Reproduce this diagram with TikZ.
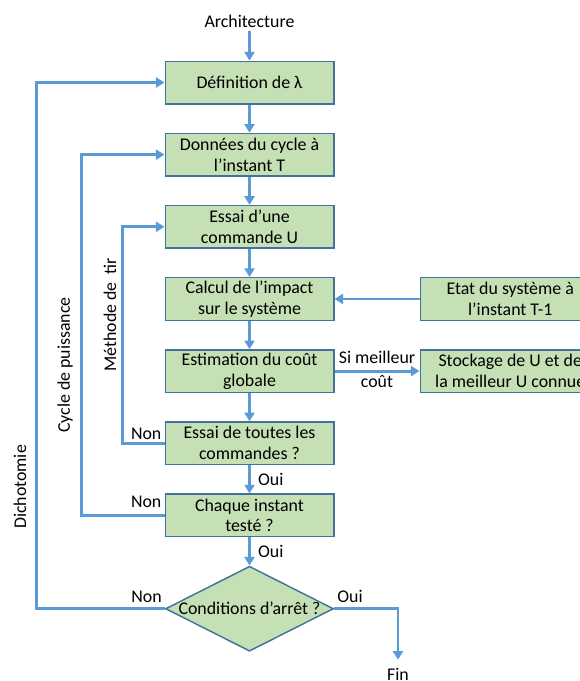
\documentclass[tikz,border=0pt]{standalone}
\usepackage{fontspec}
\setmainfont{Carlito}
\usetikzlibrary{arrows.meta,positioning,shapes.geometric}
\definecolor{vertclair}{HTML}{C5E0B4}
\definecolor{bordure}{HTML}{41719C}
\definecolor{bleufleche}{HTML}{5B9BD5}

\begin{document}
\begin{tikzpicture}[
x=0.7pt, y=-0.7pt,
node distance=19.7pt,
font=\fontsize{12.5}{14.5}\selectfont,
boite/.style={
rectangle,
draw=bordure,
fill=vertclair,
line width=1pt,
align=center,
minimum width=118pt,
minimum height=29.8pt,
inner xsep=2pt,
inner ysep=0pt
},
losange/.style={
diamond,
draw=bordure,
fill=vertclair,
line width=1pt,
minimum width=117.6pt,
minimum height=59.5pt,
inner sep=0pt
},
etiq/.style={inner sep=2pt},
fleche/.style={-{Triangle[length=6pt,width=7pt]}, line width=2pt, draw=bleufleche}
]
\useasboundingbox (0,0) rectangle (580,681);
\clip (0,0) rectangle (580,681);

\node[boite] (def) at (249.5,82.5) {Définition de λ};
\node[etiq, above=21pt of def] (arch) {Architecture};
\node[boite, below=of def] (don) {Données du cycle à \\ l’instant T};
\node[boite, below=of don] (essai) {Essai d’une \\ commande U};
\node[boite, below=of essai] (calc) {Calcul de l’impact \\ sur le système};
\node[boite, minimum width=126pt, right=59.5pt of calc] (etat) {Etat du système à \\ l’instant T-1};
\node[boite, below=of calc] (estim) {Estimation du coût \\ globale};
\node[boite, minimum width=126pt, right=59.5pt of estim] (stock) {Stockage de U et de \\ la meilleur U connue};
\node[boite, below=of estim] (toutes) {Essai de toutes les \\ commandes ?};
\node[boite, below=of toutes] (chaque) {Chaque instant \\ testé ?};
\node[losange, below=of chaque] (cond) {\makebox[0pt]{Conditions d’arrêt ?}};
\node[etiq, inner sep=0.5pt] (fin) at (398,674) {Fin};

% boucles
\node[etiq, rotate=90] (methode) at (110,315) {Méthode de\ \ tir};
\node[etiq, rotate=90] (cycle) at (65,365) {Cycle de puissance};
\node[etiq, rotate=90] (dicho) at (20,487) {Dichotomie};
\node[etiq, above left=0pt and 0pt of toutes.west] (non1) {Non};
\node[etiq, above left=3pt and 0pt of chaque.west] (non2) {Non};
\node[etiq, above left=2pt and 0pt of cond.west] (non3) {Non};
\node[etiq, above right=2pt and 0pt of cond.east] (oui3) {Oui};

\draw[fleche] (arch) -- (def);
\draw[fleche] (def) -- (don);
\draw[fleche] (don) -- (essai);
\draw[fleche] (essai) -- (calc);
\draw[fleche] (calc) -- (estim);
\draw[fleche] (estim) -- (toutes);
\draw[fleche] (toutes) -- node[etiq, right=3pt] (oui1) {Oui} (chaque);
\draw[fleche] (chaque) -- node[etiq, right=3pt] (oui2) {Oui} (cond);
\draw[fleche] (etat) -- (calc);
\draw[fleche] (estim) -- node[etiq, above=2pt] (simeil) {Si meilleur}
  node[etiq, below=0pt] (cout) {coût} (stock);
\draw[fleche] (toutes.west) -- ++(-42,0) |- (essai.west);
\draw[fleche] (chaque.west) -- ++(-83,0) |- (don.west);
\draw[fleche] (cond.west) -- ++(-128,0) |- (def.west);
\draw[fleche, shorten >=5pt] (cond.east) -| (fin.north);
\end{tikzpicture}
\end{document}
